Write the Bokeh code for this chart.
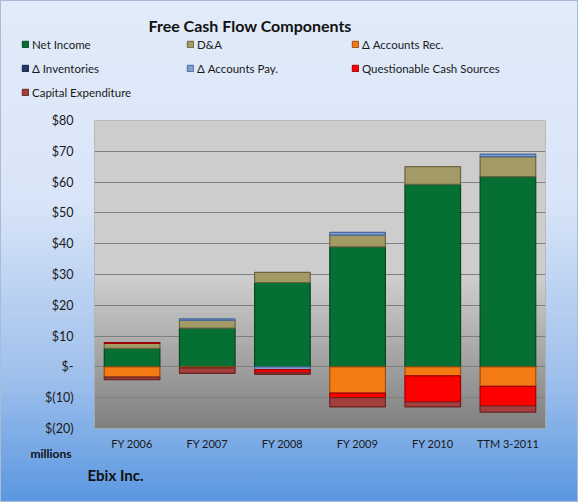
import numpy as np
from bokeh.plotting import figure
from bokeh.layouts import column
from bokeh.models import (FixedTicker, Label, Legend, LegendItem, ColumnDataSource, FactorRange,
                          Range1d, Title)
from bokeh.embed import file_html
from bokeh.resources import INLINE

categories = ["FY 2006", "FY 2007", "FY 2008", "FY 2009", "FY 2010", "TTM 3-2011"]
net_income = [6.0, 12.6, 27.4, 39.0, 59.3, 61.8]
d_and_a = [1.6, 2.5, 3.3, 3.8, 5.7, 6.5]
accounts_rec = [-3.3, -0.3, 0.0, -8.5, -2.9, -6.3]
inventories = [0.0, 0.0, 0.0, 0.0, 0.0, 0.0]
accounts_pay = [0.0, 0.5, -0.9, 0.9, 0.0, 0.8]
questionable = [0.3, 0.0, -1.0, -1.5, -8.5, -6.4]
capex = [-0.8, -1.8, -0.5, -3.0, -1.6, -2.0]

series_names = ["Net Income", "D&A", "\u0394 Accounts Rec.", "\u0394 Inventories",
                "\u0394 Accounts Pay.", "Questionable Cash Sources", "Capital Expenditure"]
series_values = [net_income, d_and_a, accounts_rec, inventories, accounts_pay, questionable, capex]
fill_colors = ["#067034", "#a39a66", "#f47a14", "#1f3a68", "#7f9fd2", "#ff0000", "#a3403e"]
line_colors = ["#03481f", "#6b6440", "#a0500c", "#121f3a", "#4a6a9c", "#a00000", "#6a2322"]

y_ticks = [-20, -10, 0, 10, 20, 30, 40, 50, 60, 70, 80]
y_tick_labels = ["$(20)", "$(10)", "$-", "$10", "$20", "$30", "$40", "$50", "$60", "$70", "$80"]
y_min, y_max = -20, 80

FONT = "Lato"
W, H, HEAD = 578, 502, 110

# ---------------- header: title + legend ----------------
head = figure(width=W, height=HEAD, x_range=Range1d(0, W), y_range=Range1d(HEAD, 0),
              output_backend="svg", toolbar_location=None, min_border=0,
              x_axis_location=None, y_axis_location=None)
head.grid.visible = False
head.border_fill_color = None
head.background_fill_color = None
head.outline_line_color = None
head.add_layout(Label(x=148, y=25, text="Free Cash Flow Components", text_font=FONT,
                      text_font_style="bold", text_font_size="16px", text_color="#111111",
                      text_baseline="middle", text_align="left"))

items = []
for name, fc, lc in zip(series_names, fill_colors, line_colors):
    r = head.vbar(x=[0], top=[0], width=1, fill_color=fc, line_color=lc, line_width=1)
    r.visible = False
    items.append(LegendItem(label=name, renderers=[r]))

legend = Legend(items=items, orientation="horizontal", ncols=3, location=(21, 8), padding=0, margin=0,
                spacing=4, label_height=20, glyph_width=8, glyph_height=8, label_standoff=3,
                label_width=150, label_text_font=FONT, label_text_font_size="11.5px",
                label_text_color="#1a1a1a", background_fill_alpha=0, border_line_color=None,
                inactive_fill_alpha=0, click_policy="none")
head.add_layout(legend, "center")

# ---------------- main chart ----------------
p = figure(width=W, height=H - HEAD, x_range=FactorRange(*categories, range_padding=0),
           y_range=Range1d(y_min, y_max), output_backend="svg", toolbar_location=None,
           min_border_left=94, min_border_right=33, min_border_top=10, min_border_bottom=74)
p.border_fill_color = None
p.background_fill_color = "#c0c0c0"
p.outline_line_color = "#b4b4b4"

for fig in (head, p):
    if "frame_align" in fig.properties():
        fig.frame_align = False

# plot-area gradient
ny = 200
ys = np.linspace(y_min, y_max, ny)
knee = 28.0
g = np.where(ys > knee, 205, 128 + (205 - 128) * (ys - y_min) / (knee - y_min)).astype(np.uint8)
img = np.empty((ny, 1), dtype=np.uint32)
view = img.view(dtype=np.uint8).reshape((ny, 1, 4))
view[:, 0, 0] = g
view[:, 0, 1] = g
view[:, 0, 2] = g
view[:, 0, 3] = 255
p.image_rgba(image=[img], x=0, y=y_min, dw=len(categories), dh=y_max - y_min, level="image")

# stacked bars: positives upward from 0, negatives downward from 0
pos_base = [0.0] * len(categories)
neg_base = [0.0] * len(categories)
for name, vals, fc, lc in zip(series_names, series_values, fill_colors, line_colors):
    xs, bots, tops = [], [], []
    for i, v in enumerate(vals):
        if v > 0:
            xs.append(categories[i]); bots.append(pos_base[i]); tops.append(pos_base[i] + v)
            pos_base[i] += v
        elif v < 0:
            xs.append(categories[i]); bots.append(neg_base[i] + v); tops.append(neg_base[i])
            neg_base[i] += v
    src = ColumnDataSource(dict(x=xs, bottom=bots, top=tops))
    p.vbar(x="x", bottom="bottom", top="top", width=0.74, source=src,
           fill_color=fc, line_color=lc, line_width=1.2)

# axes
p.yaxis.ticker = FixedTicker(ticks=y_ticks)
p.yaxis.major_label_overrides = {t: s for t, s in zip(y_ticks, y_tick_labels)}
for ax in (p.xaxis[0], p.yaxis[0]):
    ax.axis_line_color = None
    ax.major_tick_line_color = None
    ax.minor_tick_line_color = None
    ax.major_label_text_font = FONT
    ax.major_label_text_color = "#1a1a1a"
p.yaxis.major_label_text_font_size = "12.5px"
p.yaxis.major_label_standoff = 15
p.xaxis.major_label_text_font_size = "11px"
p.xaxis.major_label_standoff = 2
p.xgrid.grid_line_color = None
p.ygrid.grid_line_color = "#7f7f7f"
p.ygrid.grid_line_width = 1

# bottom texts
p.add_layout(Title(text="millions", align="left", offset=-64, standoff=-17, text_font=FONT,
                   text_font_style="bold", text_font_size="12px", text_color="#111111"), "below")
p.add_layout(Title(text="Ebix Inc.", align="left", offset=-7, standoff=23, text_font=FONT,
                   text_font_style="bold", text_font_size="15px", text_color="#111111"), "below")

page = column(head, p, spacing=0,
              styles={"background": "linear-gradient(to bottom, #e1ebf9 0%, #d9e5f8 40%, #9fc0ec 75%, #5a97e0 100%)",
                      "box-shadow": "inset 0 0 0 1px #a9bcd6"})

open("out.html", "w").write(file_html(page, INLINE))
